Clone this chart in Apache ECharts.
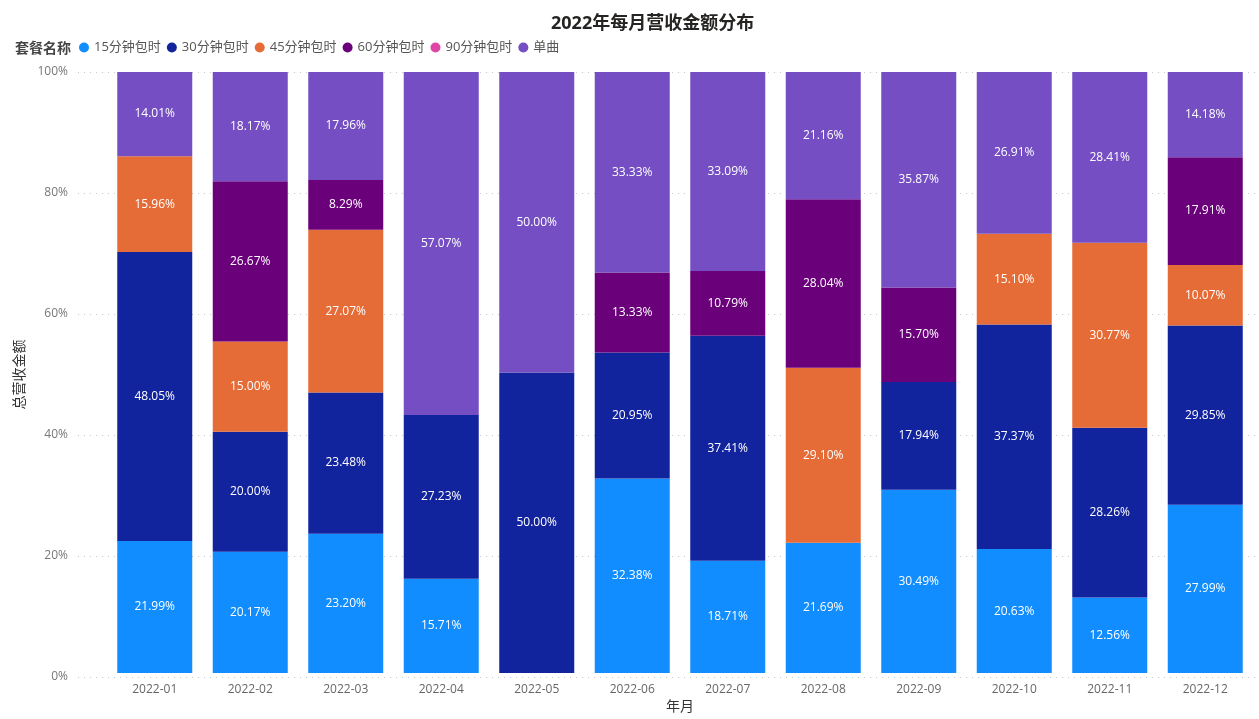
<!DOCTYPE html>
<html><head><meta charset="utf-8">
<script src="https://cdn.jsdelivr.net/npm/echarts@6/dist/echarts.min.js"></script>
<style>html,body{margin:0;padding:0;background:#fff}#c{width:1259px;height:719px}</style>
</head><body><div id="c"></div>
<script>
const months = ['2022-01','2022-02','2022-03','2022-04','2022-05','2022-06','2022-07','2022-08','2022-09','2022-10','2022-11','2022-12'];
const seriesNames = ['15分钟包时','30分钟包时','45分钟包时','60分钟包时','90分钟包时','单曲'];
const s15 = [21.99,20.17,23.20,15.71,0,32.38,18.71,21.69,30.49,20.63,12.56,27.99];
const s30 = [48.05,20.00,23.48,27.23,50.00,20.95,37.41,0,17.94,37.37,28.26,29.85];
const s45 = [15.96,15.00,27.07,0,0,0,0,29.10,0,15.10,30.77,10.07];
const s60 = [0,26.67,8.29,0,0,13.33,10.79,28.04,15.70,0,0,17.91];
const s90 = [0,0,0,0,0,0,0,0,0,0,0,0];
const sSingle = [14.01,18.17,17.96,57.07,50.00,33.33,33.09,21.16,35.87,26.91,28.41,14.18];
const colors = ['#118DFF','#12239E','#E66C37','#6B007B','#E044A7','#744EC2'];
const yTicks = [0,20,40,60,80,100];

const FONT = '"Segoe UI","Open Sans","Noto Sans","Noto Sans CJK SC",sans-serif';
const allData = [s15,s30,s45,s60,s90,sSingle];
const chart = echarts.init(document.getElementById('c'));
chart.setOption({
  animation:false,
  color: colors,
  textStyle:{fontFamily:FONT},
  title:{text:'2022年每月营收金额分布', left:546, top:10,
    textStyle:{fontSize:18,fontWeight:'bold',color:'#252423',fontFamily:FONT}},
  graphic:[{type:'text', left:15, top:42, style:{text:'套餐名称', font:'bold 14px '+FONT, fill:'#444'}}],
  legend:{left:74, top:36, itemWidth:10, itemHeight:10, itemGap:6, icon:'circle',
    textStyle:{fontSize:13,color:'#555',fontFamily:FONT}, data:seriesNames},
  grid:[{left:78,right:0,top:72,bottom:42},{left:107,right:6,top:72,bottom:42}],
  xAxis:[
    {gridIndex:0,type:'category',data:months,show:false},
    {gridIndex:1,type:'category',data:months,axisLine:{show:false},axisTick:{show:false},
     axisLabel:{color:'#666',fontSize:12,margin:10,fontFamily:FONT},
     name:'年月',nameLocation:'middle',nameGap:26,nameTextStyle:{fontSize:14,color:'#333',fontFamily:FONT}}
  ],
  yAxis:[
    {gridIndex:0,type:'value',min:0,max:100,interval:20,
     axisLabel:{formatter:v=>yTicks.includes(v)?v+'%':'',color:'#777',fontSize:12,margin:10,fontFamily:FONT},
     splitLine:{lineStyle:{color:'#c8c8c8',type:[1,5],width:1}},
     axisLine:{show:false},axisTick:{show:false},
     name:'总营收金额',nameLocation:'middle',nameGap:33,nameTextStyle:{fontSize:14,color:'#333',fontFamily:FONT}},
    {gridIndex:1,type:'value',min:0,max:100,show:false}
  ],
  series: seriesNames.map((n,i)=>({
    name:n,type:'bar',stack:'total',xAxisIndex:1,yAxisIndex:1,barWidth:75,
    data: allData[i].map(v=>v>0?v:null),
    itemStyle:{color:colors[i]},
    label:{show:true,position:'inside',color:'#fff',fontSize:12,fontFamily:FONT,
      formatter:p=>p.value==null?'':p.value.toFixed(2)+'%'}
  }))
});
</script></body></html>
